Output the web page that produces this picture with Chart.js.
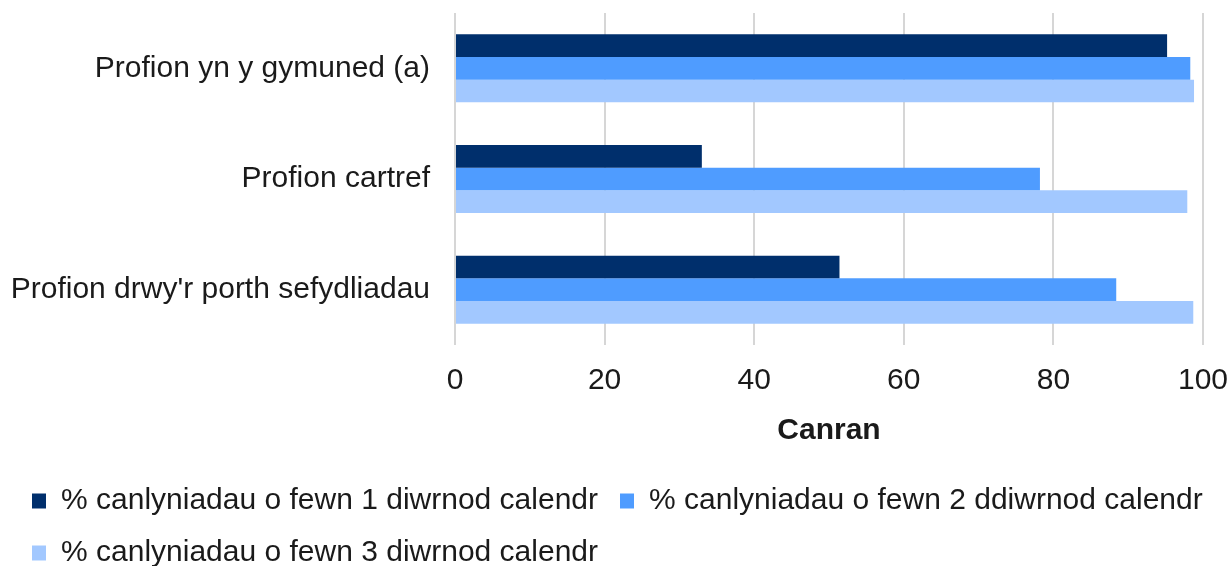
<!DOCTYPE html>
<html>
<head>
<meta charset="utf-8">
<script src="https://cdn.jsdelivr.net/npm/chart.js@4/dist/chart.umd.min.js"></script>
<style>
  html, body { margin: 0; padding: 0; background: #ffffff; }
  #wrap { width: 1229px; height: 566px; position: relative; }
</style>
</head>
<body>
<div id="wrap"><canvas id="c"></canvas></div>
<script>
const categories = ["Profion yn y gymuned (a)", "Profion cartref", "Profion drwy'r porth sefydliadau"];
const seriesNames = [
  "% canlyniadau o fewn 1 diwrnod calendr",
  "% canlyniadau o fewn 2 ddiwrnod calendr",
  "% canlyniadau o fewn 3 diwrnod calendr"
];
const within1Day = [95.2, 33.0, 51.4];
const within2Days = [98.3, 78.2, 88.4];
const within3Days = [98.8, 97.9, 98.7];
const xTicks = [0, 20, 40, 60, 80, 100];
const xAxisTitle = "Canran";

const colors = ["#002f6c", "#4f9cff", "#a2c8ff"];
const FONT = "'Liberation Sans', Arial, sans-serif";

new Chart(document.getElementById('c'), {
  type: 'bar',
  data: {
    labels: categories,
    datasets: [
      { label: seriesNames[0], data: within1Day, backgroundColor: colors[0] },
      { label: seriesNames[1], data: within2Days, backgroundColor: colors[1] },
      { label: seriesNames[2], data: within3Days, backgroundColor: colors[2] }
    ]
  },
  options: {
    indexAxis: 'y',
    responsive: true,
    maintainAspectRatio: false,
    animation: false,
    devicePixelRatio: 1,
    datasets: { bar: { categoryPercentage: 0.615, barPercentage: 1.0 } },
    layout: { padding: { left: 10, right: -4, top: 0, bottom: -12 } },
    plugins: {
      tooltip: { enabled: false },
      legend: {
        position: 'bottom',
        align: 'start',
        labels: {
          font: { family: FONT, size: 30 },
          color: '#1a1a1a',
          boxWidth: 14,
          boxHeight: 15,
          padding: 22
        }
      }
    },
    scales: {
      x: {
        min: 0, max: 100,
        afterBuildTicks: (s) => { s.ticks = xTicks.map(v => ({ value: v })); },
        afterFit: (s) => { s.paddingRight = 26; s.paddingLeft = 0; },
        grid: { color: '#d6d6d6', lineWidth: 2, drawTicks: false },
        border: { display: false },
        ticks: { font: { family: FONT, size: 30 }, color: '#1a1a1a', padding: 18 },
        title: {
          display: true, text: xAxisTitle,
          font: { family: FONT, size: 30, weight: 'bold' }, color: '#1a1a1a',
          padding: { top: -4, bottom: 15 }
        }
      },
      y: {
        grid: { display: false, drawTicks: false },
        border: { display: false },
        ticks: { font: { family: FONT, size: 30 }, color: '#1a1a1a', padding: 25 },
        afterFit: (s) => { s.width = 445; s.paddingTop = 13; s.paddingBottom = 0; }
      }
    }
  }
});
</script>
</body>
</html>
